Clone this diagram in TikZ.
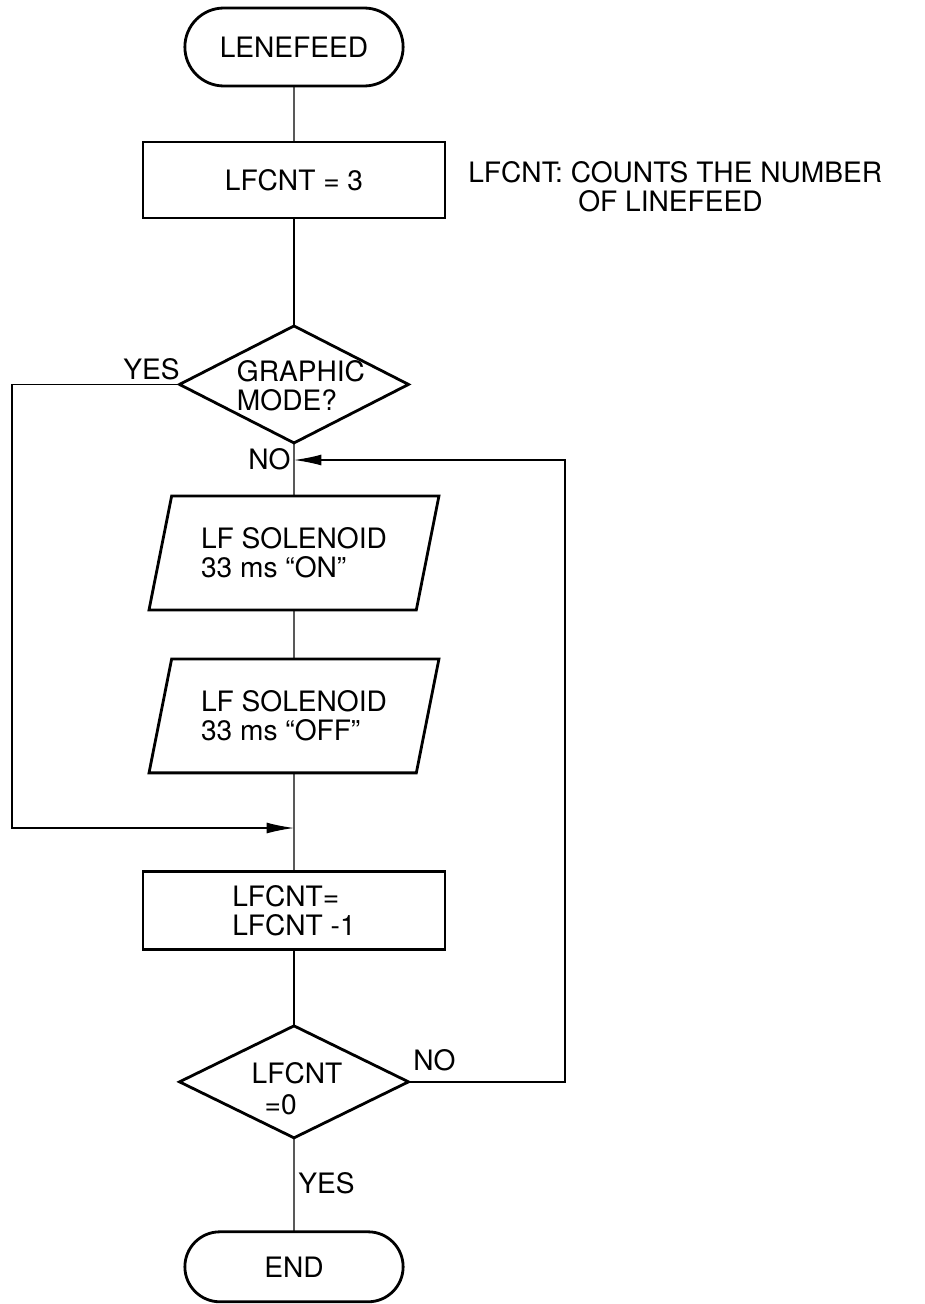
\documentclass[tikz,border=0pt]{standalone}
\usepackage{fontspec}
\setmainfont{TeX Gyre Heros}
\usetikzlibrary{arrows.meta, positioning, shapes.geometric, shapes.misc}

\begin{document}
\begin{tikzpicture}[
    x=0.02cm, y=-0.02cm,
    font=\fontsize{16}{16.5}\selectfont,
    term/.style={rounded rectangle, draw, line width=1.6pt, outer sep=0pt, minimum width=4.6cm},
    proc/.style={rectangle, draw, line width=1.6pt, outer sep=0pt, minimum width=6.04cm, align=left},
    io/.style={trapezium, trapezium left angle=70, trapezium right angle=110,
        trapezium stretches body, draw, line width=1.6pt, outer sep=0pt,
        minimum width=5.8cm, minimum height=2.28cm, align=left},
    decide/.style={diamond, draw, line width=1.6pt, outer sep=0pt, inner sep=0pt, minimum width=4.58cm},
    link/.style={line width=0.8pt},
    arrow/.style={link, -{Latex[length=5.5mm, width=2.2mm]}},
    yesno/.style={anchor=base west, inner sep=0pt}
]

\useasboundingbox (0,0) rectangle (925,1304);

% Nodes: main flow
\node[term, minimum height=1.56cm] (start) at (294,47) {LENEFEED};
\node[proc, minimum height=1.52cm, below=1.12cm of start] (init) {LFCNT = 3};
\node[decide, minimum height=2.34cm, below=2.16cm of init] (graphic) {};
\node[align=left, xshift=0.14cm, yshift=-0.03cm] (graphictext) at (graphic.center) {GRAPHIC\\MODE?};
\node[io, below=1.06cm of graphic] (solon) {LF SOLENOID\\33 ms ``ON''};
\node[io, below=0.98cm of solon] (soloff) {LF SOLENOID\\33 ms ``OFF''};
\node[proc, minimum height=1.56cm, below=1.98cm of soloff] (decr) {LFCNT=\\LFCNT -1};
\node[decide, minimum height=2.24cm, below=1.52cm of decr] (count) {};
\node[align=left, xshift=0.06cm, yshift=-0.14cm] (counttext) at (count.center) {LFCNT\\[1.5pt]\hspace*{0.26cm}=0};
\node[term, minimum height=1.4cm, below=1.88cm of count] (stop) {END};

% Note beside the counter
\node[yesno] (note) at (468,183) {LFCNT: COUNTS THE NUMBER};
\node[yesno] (notecont) at (578,212) {OF LINEFEED};

% Branch labels
\node[yesno] (yesgraphic) at (123,379) {YES};
\node[yesno] (nographic) at (248,469) {NO};
\node[yesno] (nocount) at (413,1070) {NO};
\node[yesno] (yescount) at (298,1193) {YES};

% Straight connectors
\draw[link] (start) -- (init);
\draw[link] (init) -- (graphic);
\draw[link] (graphic) -- (solon);
\draw[link] (solon) -- (soloff);
\draw[link] (soloff) -- (decr);
\draw[link] (decr) -- (count);
\draw[link] (count) -- (stop);

% Loops
\coordinate (merge) at (294,828);
\coordinate (yescorner) at (12,828);
\coordinate (back) at (294,460);
\coordinate (nocorner) at (565,460);
\draw[arrow] (graphic.west) -| (yescorner) -- (merge);
\draw[arrow] (count.east) -| (nocorner) -- (back);

\end{tikzpicture}
\end{document}
